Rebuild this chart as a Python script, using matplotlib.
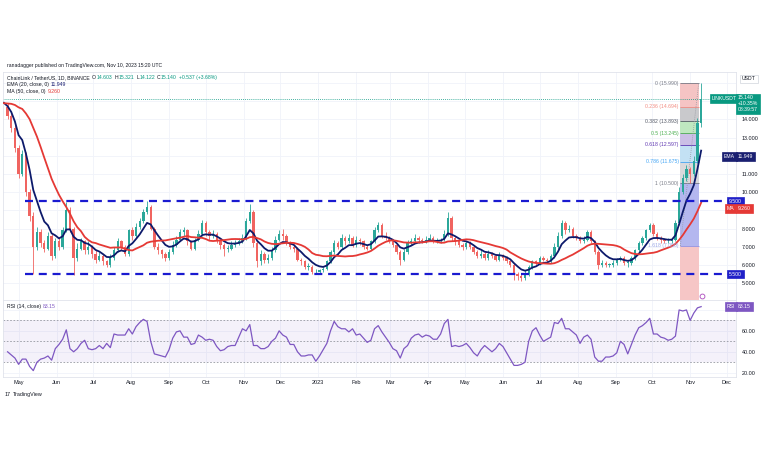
import matplotlib
matplotlib.use("Agg")
import matplotlib.pyplot as plt
import matplotlib.dates as mdates
from matplotlib.transforms import blended_transform_factory
import numpy as np
import pandas as pd

plt.rcParams['font.family'] = ['Liberation Sans', 'DejaVu Sans']

W, H = 768, 463

# 3-day candles, LINK/USDT, from 2022-04-22 to 2023-11-10
start_date = "2022-04-22"
first_open = 14.7
# closes before the visible range (only used to warm up EMA / MA)
prev_closes = [14.5, 13.8, 13.5, 13.2, 13.6, 14.2, 14.0, 15.1, 16.0, 16.8,
               17.0, 17.3, 16.5, 15.0, 14.2, 13.9, 14.5]

closes = [
    14.2, 13.5, 12.4, 11.0, 12.1, 10.0, 8.7, 7.0, 7.8, 7.2,
    6.9, 7.6, 6.5, 7.3, 7.0, 7.9, 9.0, 8.0, 6.4, 6.9,
    7.3, 6.8, 7.0, 6.6, 6.3, 6.5, 6.2, 6.0, 6.4, 6.8,
    7.3, 7.0, 6.6, 7.9, 7.6, 8.1, 8.4, 8.9, 9.2, 8.0,
    7.0, 6.8, 6.6, 6.4, 6.7, 7.1, 7.4, 7.8, 7.9, 7.3,
    6.9, 7.4, 7.7, 8.3, 7.8, 7.6, 7.7, 7.3, 7.1, 6.9,
    6.9, 7.1, 7.2, 7.3, 7.5, 8.4, 8.9, 7.2, 6.2, 6.6,
    6.3, 6.4, 6.8, 7.4, 7.7, 7.6, 7.2, 7.0, 6.9, 6.3,
    6.2, 5.9, 5.9, 5.6, 5.6, 5.7, 5.8, 6.2, 6.7, 7.2,
    7.0, 7.5, 7.3, 7.5, 7.1, 7.4, 7.3, 7.0, 6.9, 7.3,
    7.9, 8.2, 7.6, 7.5, 7.3, 7.1, 6.7, 6.3, 6.7, 7.2,
    7.3, 7.5, 7.4, 7.3, 7.4, 7.5, 7.3, 7.3, 7.4, 7.7,
    8.6, 7.5, 7.3, 7.1, 7.0, 7.2, 7.0, 6.7, 6.5, 6.6,
    6.4, 6.6, 6.5, 6.3, 6.5, 6.4, 6.2, 6.0, 5.5, 5.4,
    5.3, 5.5, 5.9, 6.2, 6.1, 6.4, 6.3, 6.2, 6.5, 7.0,
    7.6, 8.3, 7.9, 8.0, 7.6, 7.5, 7.3, 7.4, 7.8, 7.3,
    6.7, 6.0, 6.1, 6.0, 6.0, 6.1, 6.3, 6.4, 6.1, 6.1,
    6.4, 6.8, 7.2, 7.5, 7.9, 8.2, 7.7, 7.5, 7.4, 7.3,
    7.3, 7.4, 8.3, 10.0, 10.8, 11.3, 11.0, 11.7, 13.8, 15.14,
]
highs = [
    14.9, 14.4, 13.7, 12.6, 12.3, 12.2, 10.2, 8.9, 8.1, 8.0,
    7.4, 7.8, 7.7, 7.5, 7.5, 8.1, 9.45, 9.2, 8.1, 7.2,
    7.5, 7.4, 7.3, 7.1, 6.8, 6.7, 6.6, 6.3, 6.6, 7.0,
    7.5, 7.4, 7.1, 8.0, 8.1, 8.3, 8.6, 9.1, 9.5, 9.3,
    8.1, 7.2, 6.9, 6.7, 6.9, 7.3, 7.6, 8.0, 8.1, 8.0,
    7.4, 7.5, 7.9, 8.5, 8.4, 7.9, 7.9, 7.8, 7.4, 7.2,
    7.1, 7.3, 7.4, 7.5, 7.7, 8.6, 9.35, 9.0, 7.3, 6.8,
    6.7, 6.6, 7.0, 7.6, 7.9, 8.0, 7.7, 7.3, 7.1, 7.0,
    6.4, 6.3, 6.1, 6.0, 5.8, 5.8, 5.9, 6.3, 6.8, 7.4,
    7.3, 7.7, 7.6, 7.7, 7.6, 7.6, 7.5, 7.4, 7.1, 7.4,
    8.1, 8.35, 8.3, 7.8, 7.6, 7.4, 7.2, 6.8, 6.9, 7.4,
    7.5, 7.7, 7.6, 7.5, 7.6, 7.7, 7.6, 7.5, 7.5, 7.9,
    8.9, 8.7, 7.6, 7.4, 7.2, 7.3, 7.3, 7.1, 6.8, 6.8,
    6.7, 6.8, 6.7, 6.6, 6.7, 6.6, 6.5, 6.3, 6.1, 5.6,
    5.5, 5.7, 6.0, 6.3, 6.3, 6.5, 6.5, 6.4, 6.6, 7.2,
    7.8, 8.5, 8.4, 8.2, 8.1, 7.7, 7.6, 7.6, 7.9, 7.9,
    7.4, 6.8, 6.3, 6.2, 6.1, 6.3, 6.4, 6.5, 6.5, 6.3,
    6.5, 6.9, 7.3, 7.6, 8.0, 8.3, 8.3, 7.8, 7.6, 7.5,
    7.5, 7.5, 8.5, 10.3, 11.0, 11.5, 11.4, 12.0, 14.1, 15.99,
]
lows = [
    14.0, 13.3, 12.2, 10.8, 10.9, 9.8, 8.4, 5.5, 6.8, 7.0,
    6.7, 6.8, 6.3, 6.4, 6.8, 6.9, 7.8, 7.8, 5.45, 6.2,
    6.8, 6.6, 6.6, 6.4, 6.1, 6.2, 6.0, 5.9, 5.9, 6.3,
    6.7, 6.8, 6.5, 6.5, 7.4, 7.5, 8.0, 8.3, 8.8, 7.9,
    6.9, 6.6, 6.4, 6.2, 6.3, 6.6, 7.0, 7.3, 7.6, 7.1,
    6.8, 6.8, 7.3, 7.6, 7.6, 7.4, 7.5, 7.2, 6.9, 6.5,
    6.7, 6.8, 7.0, 7.1, 7.2, 7.4, 8.3, 7.0, 5.9, 6.0,
    6.1, 6.1, 6.3, 6.7, 7.3, 7.4, 7.1, 6.9, 6.7, 6.2,
    6.0, 5.8, 5.7, 5.5, 5.5, 5.5, 5.6, 5.7, 6.1, 6.6,
    6.9, 6.9, 7.1, 7.2, 7.0, 7.0, 7.1, 6.9, 6.8, 6.8,
    7.2, 7.8, 7.5, 7.4, 7.2, 7.0, 6.6, 6.0, 6.2, 6.6,
    7.1, 7.2, 7.2, 7.2, 7.2, 7.3, 7.2, 7.2, 7.2, 7.3,
    7.6, 7.3, 7.1, 7.0, 6.8, 6.9, 6.9, 6.6, 6.4, 6.4,
    6.3, 6.3, 6.4, 6.2, 6.2, 6.3, 6.1, 5.9, 5.2, 5.2,
    5.1, 5.2, 5.4, 5.8, 6.0, 6.0, 6.2, 6.1, 6.1, 6.4,
    6.9, 7.5, 7.7, 7.8, 7.5, 7.4, 7.2, 7.2, 7.3, 7.2,
    6.6, 5.8, 5.9, 5.9, 5.9, 5.9, 6.0, 6.2, 6.0, 5.9,
    6.0, 6.3, 6.7, 7.1, 7.4, 7.8, 7.6, 7.4, 7.2, 7.2,
    7.2, 7.2, 7.3, 8.2, 9.9, 10.6, 10.5, 10.9, 11.6, 13.6,
]
rsi = [
    40, 37, 34, 28, 33, 33, 26, 22, 30, 33,
    34, 36, 32, 43, 47, 52, 61, 43, 40, 43,
    48, 51, 43, 42, 43, 46, 43, 48, 44, 57,
    56, 56, 56, 62, 57, 64, 68, 71, 69, 50,
    38, 37, 36, 35, 42, 53, 59, 60, 54, 54,
    47, 48, 56, 54, 51, 52, 51, 45, 41, 42,
    45, 46, 46, 54, 62, 60, 66, 46, 46, 43,
    43, 45, 50, 53, 60, 56, 54, 47, 47, 40,
    36, 36, 37, 37, 31, 36, 42, 48, 60, 69,
    64, 62, 62, 59, 62, 56, 57, 53, 49, 51,
    62, 65, 59, 54, 49, 43, 41, 34, 43, 46,
    53, 56, 57, 54, 56, 55, 52, 52, 57, 67,
    71, 45, 46, 45, 46, 48, 44, 39, 36, 42,
    46, 43, 40, 43, 48, 45, 39, 33, 27, 27,
    28, 30, 50, 60, 63, 56, 50, 52, 54, 68,
    67, 72, 62, 62, 59, 56, 48, 54, 56, 52,
    35, 31, 31, 35, 35, 36, 39, 50, 47, 38,
    47, 56, 63, 65, 68, 72, 57, 57, 54, 53,
    51, 52, 55, 80, 79, 80, 70, 77, 82, 83.15,
]

support_levels = [9.5, 5.5]
fib_ratios = ["0", "0.236", "0.382", "0.5", "0.618", "0.786", "1"]
fib_prices = [15.990, 14.694, 13.893, 13.245, 12.597, 11.675, 10.500]
fib_ext_price = 7.05
fib_start, fib_end = "2023-10-24", "2023-11-08"

last_price = 15.140
ema_last, ma_last, rsi_last = 11.949, 9.260, 83.15

# ---------------------------------------------------------------
dates = pd.date_range(start_date, periods=len(closes), freq="3D")
prev_dates = pd.date_range(end=dates[0] - pd.Timedelta(days=3), periods=len(prev_closes), freq="3D")
all_close = pd.Series(prev_closes + closes, index=prev_dates.append(dates))
ema = all_close.ewm(span=20 / 3, adjust=False).mean()
ma = all_close.rolling(17).mean()

opens = np.array([first_open] + closes[:-1])
closes_a = np.array(closes)
x = mdates.date2num(dates)

up_col, dn_col = "#2ba79a", "#f06460"
cols = np.where(closes_a >= opens, up_col, dn_col)

fig = plt.figure(figsize=(W / 100, H / 100), dpi=100)
renderer = fig.canvas.get_renderer()


def fx(px):
    return px / W


def fy(py):
    return 1 - py / H


ax = fig.add_axes([fx(3), fy(300), fx(736) - fx(3), fy(72) - fy(300)])
ax_rsi = fig.add_axes([fx(3), fy(377), fx(736) - fx(3), fy(300) - fy(377)], sharex=ax)

x0 = mdates.date2num(pd.Timestamp("2022-04-18 06:00"))
x1 = mdates.date2num(pd.Timestamp("2023-12-08 12:00"))
ax.set_xlim(x0, x1)
ax.set_ylim(4.08, 16.6)
ax_rsi.set_ylim(15.9, 89.5)

grid_c = "#f0f3fa"
months = pd.date_range("2022-05-01", "2023-12-01", freq="MS")
for m in months:
    ax.axvline(mdates.date2num(m), color=grid_c, lw=0.6, zorder=0)
    ax_rsi.axvline(mdates.date2num(m), color=grid_c, lw=0.6, zorder=0)
for v in range(5, 17):
    ax.axhline(v, color=grid_c, lw=0.6, zorder=0)
for v in [20, 40, 60, 80]:
    ax_rsi.axhline(v, color=grid_c, lw=0.6, zorder=0)

# position / fib drawing
fs, fe = mdates.date2num(pd.Timestamp(fib_start)), mdates.date2num(pd.Timestamp(fib_end))
ax.fill_between([fs, fe], 4.08, fib_prices[0], color="#f6c6c6", lw=0, zorder=1)
ax.fill_between([fs, fe], fib_ext_price, fib_prices[-1], color="#b4b7ef", lw=0, zorder=1)
band_cols = ["#f5c4c4", "#c9c9cc", "#bfe8c0", "#cbbfe6", "#c3e1f4", "#d9d9dc"]
line_cols = ["#787b86", "#f28b82", "#555a66", "#4caf50", "#5e35b1", "#42a5f5", "#787b86"]
for k in range(len(band_cols)):
    ax.fill_between([fs, fe], fib_prices[k + 1], fib_prices[k], color=band_cols[k], lw=0, zorder=1)
for k, (r, p) in enumerate(zip(fib_ratios, fib_prices)):
    ax.hlines(p, fs, fe, color=line_cols[k], lw=0.6, zorder=2)
    ax.text(fs - 1.5, p, f"{r} ({p:.3f})", ha="right", va="center", fontsize=3.7,
            color=line_cols[k], zorder=6)
ax.hlines(fib_ext_price, fs, fe, color="#8f93e6", lw=0.6, zorder=2)
ax.text(fs - 1.5, fib_ext_price, f"1.618 ({fib_ext_price:.3f})", ha="right", va="center",
        fontsize=3.7, color="#9aa6e6", zorder=6)
ax.plot([fs, fe], [fib_ext_price, fib_prices[0]], ls=(0, (1, 1.5)), color="#9598a1", lw=0.6, zorder=2)

# support / resistance lines
for lv in support_levels:
    ax.axhline(lv, xmin=(25 - 3) / 733, color="#1a1ad0", lw=1.6, ls=(0, (3.6, 2.6)), zorder=5)

ax.axhline(last_price, color="#089981", lw=0.6, ls=(0, (1, 1.5)), zorder=2)

# candles
ax.vlines(x, lows, highs, color=cols, lw=0.6, zorder=3)
body = closes_a - opens
body = np.where(np.abs(body) < 0.04, 0.04, body)
ax.bar(x, body, bottom=opens, width=1.9, color=cols, lw=0, zorder=3)

# moving averages
vis = ema.index >= prev_dates[-1]
ax.plot(mdates.date2num(ema.index[vis]), ema.values[vis], color="#0d1a6b", lw=1.3, zorder=4)
ax.plot(mdates.date2num(ma.index[vis]), ma.values[vis], color="#e53935", lw=1.3, zorder=4)

ax.plot([mdates.date2num(pd.Timestamp("2023-11-11"))], [4.3], marker="o", ms=3.5,
        mfc="white", mec="#ab47bc", mew=0.6, clip_on=False, zorder=7)

# RSI pane
ax_rsi.fill_between([x0, x1], 30, 70, color="#7e57c2", alpha=0.08, lw=0, zorder=1)
for lv in [30, 50, 70]:
    ax_rsi.axhline(lv, color="#9598a1", lw=0.6, ls=(0, (2, 2)), zorder=2)
ax_rsi.plot(x, rsi, color="#7e57c2", lw=0.9, zorder=3)

# axes styling
for a in (ax, ax_rsi):
    for s in a.spines.values():
        s.set_color("#e0e3eb")
        s.set_linewidth(0.6)
    a.yaxis.tick_right()
    a.tick_params(axis="both", length=0, labelsize=3.9, colors="#131722", pad=4)
ax.set_yticks([5, 6, 7, 8, 10, 11, 13, 14])
ax.set_yticklabels([f"{v:.3f}" for v in [5, 6, 7, 8, 10, 11, 13, 14]])
ax_rsi.set_yticks([20, 40, 60])
ax_rsi.set_yticklabels(["20.00", "40.00", "60.00"])
ax_rsi.set_xticks(mdates.date2num(months))
ax_rsi.set_xticklabels(["2023" if m.month == 1 else m.strftime("%b") for m in months])
ax_rsi.tick_params(axis="x", pad=2.5, labelsize=4.0)
ax.tick_params(labelbottom=False)


def tag(a, px, y, s, fc, tc="white", ec=None, va="center"):
    tr = blended_transform_factory(fig.transFigure, a.transData)
    a.text(fx(px), y, s, transform=tr, ha="left", va=va, fontsize=3.7, color=tc,
           linespacing=1.25,
           bbox=dict(boxstyle="square,pad=0.35", fc=fc, ec=ec or fc, lw=0.5),
           clip_on=False, zorder=10)


tag(ax, 742, 16.22, "USDT", "white", tc="#131722", ec="#d1d4dc")
tag(ax, 712, last_price, "LINKUSDT", "#089981")
tag(ax, 738, last_price + 0.17, "15.140\n+10.35%\n08:39:57", "#089981", va="top")
tag(ax, 724, ema_last, "EMA", "#1a1f71")
tag(ax, 738, ema_last, f"{ema_last:.3f}", "#1a1f71")
tag(ax, 729, 9.5, "9.500", "#2020c8")
tag(ax, 727, 9.12, "MA", "#e53935")
tag(ax, 738, 9.12, f"{ma_last:.3f}", "#e53935")
tag(ax, 729, 5.5, "5.500", "#2020c8")
tag(ax_rsi, 727, rsi_last, "RSI", "#7e57c2")
tag(ax_rsi, 738, rsi_last, f"{rsi_last:.2f}", "#7e57c2")

# header and legends
dark = "#131722"
teal = "#089981"


def text_row(px, py, items, size=3.7):
    cur = fx(px)
    for s, c, gap in items:
        t = fig.text(cur, fy(py), s, fontsize=size, color=c, va="center")
        bb = t.get_window_extent(renderer)
        cur = (bb.x1 + gap) / W


fig.text(fx(7), fy(65), "ranadagger published on TradingView.com, Nov 10, 2023 15:20 UTC",
         fontsize=3.6, color=dark, va="center")
text_row(7, 77.5, [("ChainLink / TetherUS, 1D, BINANCE", dark, 2.5),
                   ("O", dark, 0.4), ("14.603", teal, 2.0),
                   ("H", dark, 0.4), ("15.321", teal, 2.0),
                   ("L", dark, 0.4), ("14.122", teal, 2.0),
                   ("C", dark, 0.4), ("15.140", teal, 2.0),
                   ("+0.537 (+3.68%)", teal, 0)])
text_row(7, 84.5, [("EMA (20, close, 0)", dark, 2.0), (f"{ema_last:.3f}", "#1a1f71", 0)])
text_row(7, 91.5, [("MA (50, close, 0)", dark, 2.0), (f"{ma_last:.3f}", "#e53935", 0)])
text_row(7, 306.5, [("RSI (14, close)", dark, 2.0), (f"{rsi_last:.2f}", "#7e57c2", 0)])

text_row(5, 394.5, [("17", dark, 1.5), ("TradingView", dark, 0)], size=3.9)

fig.savefig("out.png", dpi=100, facecolor="white")
